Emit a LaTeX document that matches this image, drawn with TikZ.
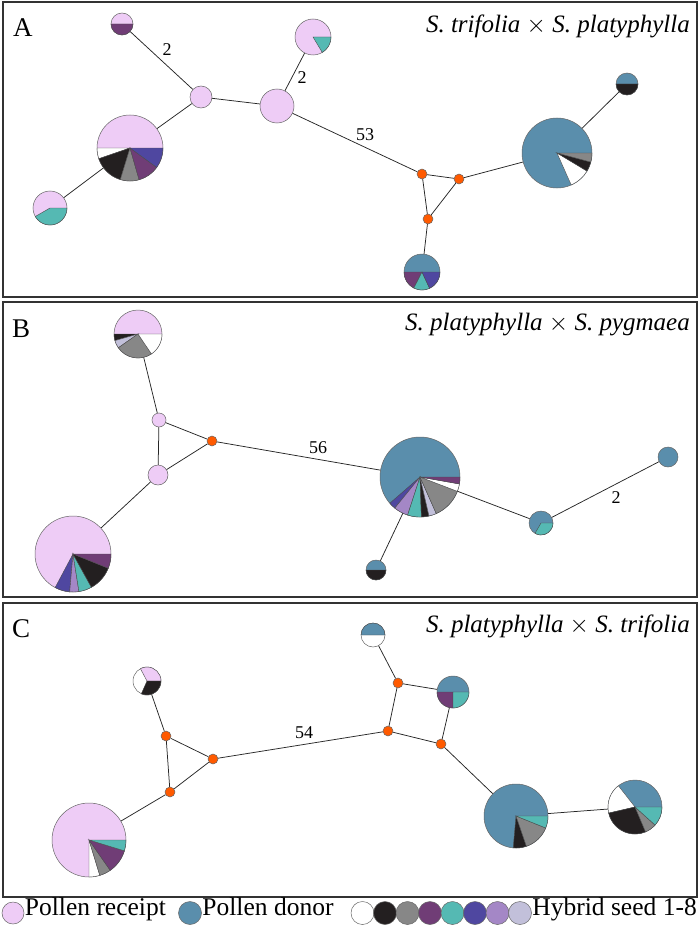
\documentclass[tikz,border=0pt]{standalone}
\usepackage{fontspec}
\setmainfont{Liberation Serif}
\usetikzlibrary{positioning}

\definecolor{ricevente}{HTML}{EECCF6}
\definecolor{donatore}{HTML}{5A8EAC}
\definecolor{viola}{HTML}{703D76}
\definecolor{turchese}{HTML}{55B9B3}
\definecolor{indaco}{HTML}{4F47A0}
\definecolor{lilla}{HTML}{A487C6}
\definecolor{lavanda}{HTML}{C2C0DA}
\definecolor{grigio}{HTML}{878787}
\definecolor{nero}{HTML}{231F20}
\definecolor{arancio}{HTML}{FF5A00}

\tikzset{
  hap/.style 2 args={circle, draw=black!60, line width=0.5pt, fill=#1, minimum size=#2pt, inner sep=0pt},
  med/.style={circle, draw=black!60, line width=0.5pt, fill=arancio, minimum size=10pt, inner sep=0pt},
  fetta/.style={draw=black!70, line width=0.4pt},
  pannello/.style={draw=black!80, line width=1.4pt},
  legame/.style={line width=0.75pt, black!85},
  passi/.style={font=\fontsize{18}{20}\selectfont, inner sep=0pt},
  titolo/.style={font=\fontsize{25}{28}\selectfont\itshape, anchor=base east, inner sep=0pt},
  lettera/.style={font=\fontsize{27}{29}\selectfont, anchor=base west, inner sep=0pt},
  voce/.style={font=\fontsize{25.5}{28}\selectfont, inner sep=0pt, text height=0.69em, text depth=0.22em},
}
% spicchio: nodo, raggio, angolo iniziale, angolo finale, colore
\newcommand{\spicchio}[5]{%
  \filldraw[fetta, fill=#5] (#1.center) -- ++(#3:#2pt) arc[start angle=#3, end angle=#4, radius=#2pt] -- cycle;}

\begin{document}
\begin{tikzpicture}[x=1pt, y=-1pt]
        \useasboundingbox (0,0) rectangle (700,931);

        % Cornici dei pannelli
        \draw[pannello] (3,2) rectangle (697,297);
        \draw[pannello] (3,302) rectangle (697,597);
        \draw[pannello] (3,603) rectangle (697,897);

        % Pannello A
        \node[lettera] (tA) at (13,37) {A};
        \node[titolo] (nA) at (690,33) {S. trifolia $\times$ S. platyphylla};
        \node[hap={ricevente}{22}] (A1) at (122,24) {};
        \node[hap={ricevente}{22}] (A2) at (201,97) {};
        \node[hap={ricevente}{34}] (A3) at (277,106) {};
        \node[hap={ricevente}{36}] (A4) at (313,37) {};
        \node[hap={ricevente}{66}] (A5) at (130,148) {};
        \node[hap={ricevente}{34}] (A6) at (50,208) {};
        \node[med] (A7) at (422,174) {};
        \node[med] (A8) at (459,179) {};
        \node[med] (A9) at (428,219) {};
        \node[hap={donatore}{70}] (A10) at (557,153) {};
        \node[hap={donatore}{22}] (A11) at (627,84) {};
        \node[hap={donatore}{36}] (A12) at (422,272) {};

        \spicchio{A1}{11}{180}{360}{viola}
        \spicchio{A4}{18}{301}{360}{turchese}
        \spicchio{A5}{33}{180}{199}{white}
        \spicchio{A5}{33}{199}{253}{nero}
        \spicchio{A5}{33}{253}{286}{grigio}
        \spicchio{A5}{33}{286}{324}{viola}
        \spicchio{A5}{33}{324}{360}{indaco}
        \spicchio{A6}{17}{210}{360}{turchese}
        \spicchio{A10}{35}{294}{329}{white}
        \spicchio{A10}{35}{329}{345}{nero}
        \spicchio{A10}{35}{345}{360}{grigio}
        \spicchio{A11}{11}{180}{360}{nero}
        \spicchio{A12}{18}{180}{243}{viola}
        \spicchio{A12}{18}{243}{295}{turchese}
        \spicchio{A12}{18}{295}{360}{indaco}

        \draw[legame] (A1) -- (A2);
        \draw[legame] (A2) -- (A5);
        \draw[legame] (A5) -- (A6);
        \draw[legame] (A2) -- (A3);
        \draw[legame] (A3) -- (A4);
        \draw[legame] (A3) -- (A7);
        \draw[legame] (A7) -- (A8);
        \draw[legame] (A7) -- (A9);
        \draw[legame] (A8) -- (A9);
        \draw[legame] (A8) -- (A10);
        \draw[legame] (A9) -- (A12);
        \draw[legame] (A10) -- (A11);
        \node[passi] (pA1) at (167,50) {2};
        \node[passi] (pA2) at (302,78) {2};
        \node[passi] (pA3) at (365,135) {53};

        % Pannello B
        \node[lettera] (tB) at (12,337) {B};
        \node[titolo] (nB) at (690,330) {S. platyphylla $\times$ S. pygmaea};
        \node[hap={ricevente}{48}] (B1) at (138,334) {};
        \node[hap={ricevente}{14}] (B2) at (159,420) {};
        \node[med] (B3) at (212,441) {};
        \node[hap={ricevente}{20}] (B4) at (158,475) {};
        \node[hap={ricevente}{76}] (B5) at (73,554) {};
        \node[hap={donatore}{80}] (B6) at (420,477) {};
        \node[hap={donatore}{24}] (B7) at (541,523) {};
        \node[hap={donatore}{20}] (B8) at (668,457) {};
        \node[hap={donatore}{20}] (B9) at (376,570) {};

        \spicchio{B1}{24}{180}{196}{nero}
        \spicchio{B1}{24}{196}{215}{lavanda}
        \spicchio{B1}{24}{215}{304}{grigio}
        \spicchio{B1}{24}{304}{360}{white}
        \spicchio{B5}{38}{242}{265}{indaco}
        \spicchio{B5}{38}{265}{279}{lilla}
        \spicchio{B5}{38}{279}{299}{turchese}
        \spicchio{B5}{38}{299}{338}{nero}
        \spicchio{B5}{38}{338}{360}{viola}
        \spicchio{B6}{40}{221}{231}{indaco}
        \spicchio{B6}{40}{231}{252}{lilla}
        \spicchio{B6}{40}{252}{272}{turchese}
        \spicchio{B6}{40}{272}{283}{nero}
        \spicchio{B6}{40}{283}{294}{lavanda}
        \spicchio{B6}{40}{294}{339}{grigio}
        \spicchio{B6}{40}{339}{350}{white}
        \spicchio{B6}{40}{350}{360}{viola}
        \spicchio{B7}{12}{240}{360}{turchese}
        \spicchio{B9}{10}{180}{360}{nero}

        \draw[legame] (B1) -- (B2);
        \draw[legame] (B2) -- (B3);
        \draw[legame] (B2) -- (B4);
        \draw[legame] (B4) -- (B3);
        \draw[legame] (B4) -- (B5);
        \draw[legame] (B3) -- (B6);
        \draw[legame] (B6) -- (B7);
        \draw[legame] (B7) -- (B8);
        \draw[legame] (B6) -- (B9);
        \node[passi] (pB1) at (318,448) {56};
        \node[passi] (pB2) at (616,498) {2};

        % Pannello C
        \node[lettera] (tC) at (12,637) {C};
        \node[titolo] (nC) at (690,632) {S. platyphylla $\times$ S. trifolia};
        \node[hap={white}{28}] (C1) at (147,681) {};
        \node[med] (C2) at (166,736) {};
        \node[med] (C3) at (213,759) {};
        \node[med] (C4) at (170,792) {};
        \node[hap={ricevente}{74}] (C5) at (89,840) {};
        \node[med] (C6) at (388,731) {};
        \node[med] (C7) at (398,683) {};
        \node[med] (C8) at (441,744) {};
        \node[hap={white}{24}] (C9) at (373,635) {};
        \node[hap={donatore}{32}] (C10) at (453,692) {};
        \node[hap={donatore}{64}] (C11) at (516,816) {};
        \node[hap={donatore}{54}] (C12) at (635,807) {};

        \spicchio{C1}{14}{0}{118}{ricevente}
        \spicchio{C1}{14}{246}{360}{nero}
        \spicchio{C5}{37}{270}{287}{white}
        \spicchio{C5}{37}{287}{305}{grigio}
        \spicchio{C5}{37}{305}{343}{viola}
        \spicchio{C5}{37}{343}{360}{turchese}
        \spicchio{C9}{12}{0}{180}{donatore}
        \spicchio{C10}{16}{180}{270}{viola}
        \spicchio{C10}{16}{270}{360}{turchese}
        \spicchio{C11}{32}{265}{289}{nero}
        \spicchio{C11}{32}{289}{338}{grigio}
        \spicchio{C11}{32}{338}{360}{turchese}
        \spicchio{C12}{27}{128}{193}{white}
        \spicchio{C12}{27}{193}{293}{nero}
        \spicchio{C12}{27}{293}{318}{grigio}
        \spicchio{C12}{27}{318}{360}{turchese}

        \draw[legame] (C1) -- (C2);
        \draw[legame] (C2) -- (C3);
        \draw[legame] (C2) -- (C4);
        \draw[legame] (C3) -- (C4);
        \draw[legame] (C4) -- (C5);
        \draw[legame] (C3) -- (C6);
        \draw[legame] (C6) -- (C7);
        \draw[legame] (C7) -- (C9);
        \draw[legame] (C7) -- (C10);
        \draw[legame] (C10) -- (C8);
        \draw[legame] (C6) -- (C8);
        \draw[legame] (C8) -- (C11);
        \draw[legame] (C11) -- (C12);
        \node[passi] (pC1) at (304,733) {54};

        % Legenda
        \node[hap={ricevente}{22}] (Lr) at (13,913) {};
        \node[voce, right=0.5pt of Lr] (vr) {Pollen receipt};
        \node[hap={donatore}{23}] (Ld) at (190,913) {};
        \node[voce, right=0.5pt of Ld] (vd) {Pollen donor};
        \foreach \c [count=\i] in {white,nero,grigio,viola,turchese,indaco,lilla,lavanda}
          \node[hap={\c}{23}] (S\i) at ({340+22.5*\i},913) {};
        \node[voce, right=0.5pt of S8] (vs) {Hybrid seed 1-8};
    \end{tikzpicture}
\end{document}
